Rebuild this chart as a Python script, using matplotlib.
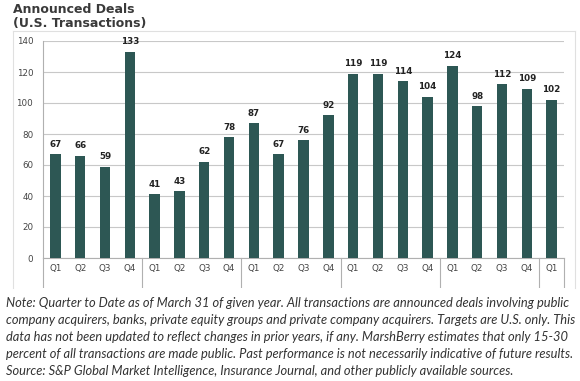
import matplotlib
matplotlib.use("Agg")
import matplotlib.pyplot as plt
import matplotlib.transforms as mtransforms
from matplotlib.patches import Rectangle
from matplotlib.lines import Line2D

quarters = ["Q1", "Q2", "Q3", "Q4"] * 5 + ["Q1"]
years = ["2012", "2013", "2014", "2015", "2016", "2017"]
year_sizes = [4, 4, 4, 4, 4, 1]
deals = [67, 66, 59, 133, 41, 43, 62, 78, 87, 67, 76, 92,
         119, 119, 114, 104, 124, 98, 112, 109, 102]
yticks = [0, 20, 40, 60, 80, 100, 120, 140]

title = "Announced Deals\n(U.S. Transactions)"
note_lines = [
    "Note: Quarter to Date as of March 31 of given year. All transactions are announced deals involving public",
    "company acquirers, banks, private equity groups and private company acquirers. Targets are U.S. only. This",
    "data has not been updated to reflect changes in prior years, if any. MarshBerry estimates that only 15-30",
    "percent of all transactions are made public. Past performance is not necessarily indicative of future results.",
    "Source: S&P Global Market Intelligence, Insurance Journal, and other publicly available sources.",
]

W, H = 580, 381
fig = plt.figure(figsize=(W / 100, H / 100), dpi=100)
fig.patch.set_facecolor("white")

L, R, T, B = 43, 564, 41, 258
ax = fig.add_axes([L / W, 1 - B / H, (R - L) / W, (B - T) / H])

bar_color = "#2d5754"
x = list(range(len(deals)))
ax.bar(x, deals, width=0.42, color=bar_color, zorder=3)
for xi, v in zip(x, deals):
    ax.annotate(str(v), (xi, v), xytext=(0, 4), textcoords="offset points",
                ha="center", va="bottom", fontsize=6.3, fontweight="bold",
                color="#222222", family="DejaVu Sans")

ax.set_xlim(-0.5, len(deals) - 0.5)
ax.set_ylim(0, 140)
ax.set_yticks(yticks)
ax.set_yticklabels([str(t) for t in yticks], fontsize=6.3, color="#444444")
ax.set_xticks(x)
ax.set_xticklabels(quarters, fontsize=6.3, color="#444444")
ax.tick_params(axis="both", length=0)
ax.tick_params(axis="x", pad=4)
ax.tick_params(axis="y", pad=7)
ax.grid(axis="y", color="#c8c8c8", linewidth=0.8, zorder=0)
for s in ["top", "right"]:
    ax.spines[s].set_visible(False)
ax.spines["left"].set_color("#b0b0b0")
ax.spines["bottom"].set_color("#b0b0b0")
ax.spines["left"].set_linewidth(0.8)
ax.spines["bottom"].set_linewidth(0.8)

# group separators and year labels
trans = mtransforms.blended_transform_factory(ax.transData, ax.transAxes)
ybot = -(290 - B) / (B - T)
pos = -0.5
bounds = [pos]
for n in year_sizes:
    pos += n
    bounds.append(pos)
for b in bounds:
    ax.add_line(Line2D([b, b], [0, ybot], transform=trans, color="#b0b0b0",
                       linewidth=0.8, clip_on=False))
ylab = -(293 - B) / (B - T)
for i, yr in enumerate(years):
    c = (bounds[i] + bounds[i + 1]) / 2
    ax.text(c, ylab, yr, transform=trans, ha="center", va="center",
            fontsize=6.3, color="#999999", clip_on=False)

# white cover to crop year labels
fig.patches.append(Rectangle((0, 0), 1, 1 - 288 / H, transform=fig.transFigure,
                             facecolor="white", edgecolor="none", zorder=5))

# outer chart border
for (x0, y0, x1, y1) in [(13, 31, 575, 31), (13, 31, 13, 288), (575, 31, 575, 288)]:
    fig.add_artist(Line2D([x0 / W, x1 / W], [1 - y0 / H, 1 - y1 / H],
                          transform=fig.transFigure, color="#e0e0e0", linewidth=0.8, zorder=6))

fig.text(13 / W, 1 - 3 / H, title, ha="left", va="top", fontsize=9,
         fontweight="bold", color="#3a3a3a", family="DejaVu Sans", linespacing=1.15, zorder=7)

for i, line in enumerate(note_lines):
    fig.text(6 / W, 1 - (303 + 17 * i) / H, line, ha="left", va="center",
             fontsize=9.3, style="italic", color="#333333", family="Lato", zorder=7)

fig.savefig("out.png", dpi=100)
